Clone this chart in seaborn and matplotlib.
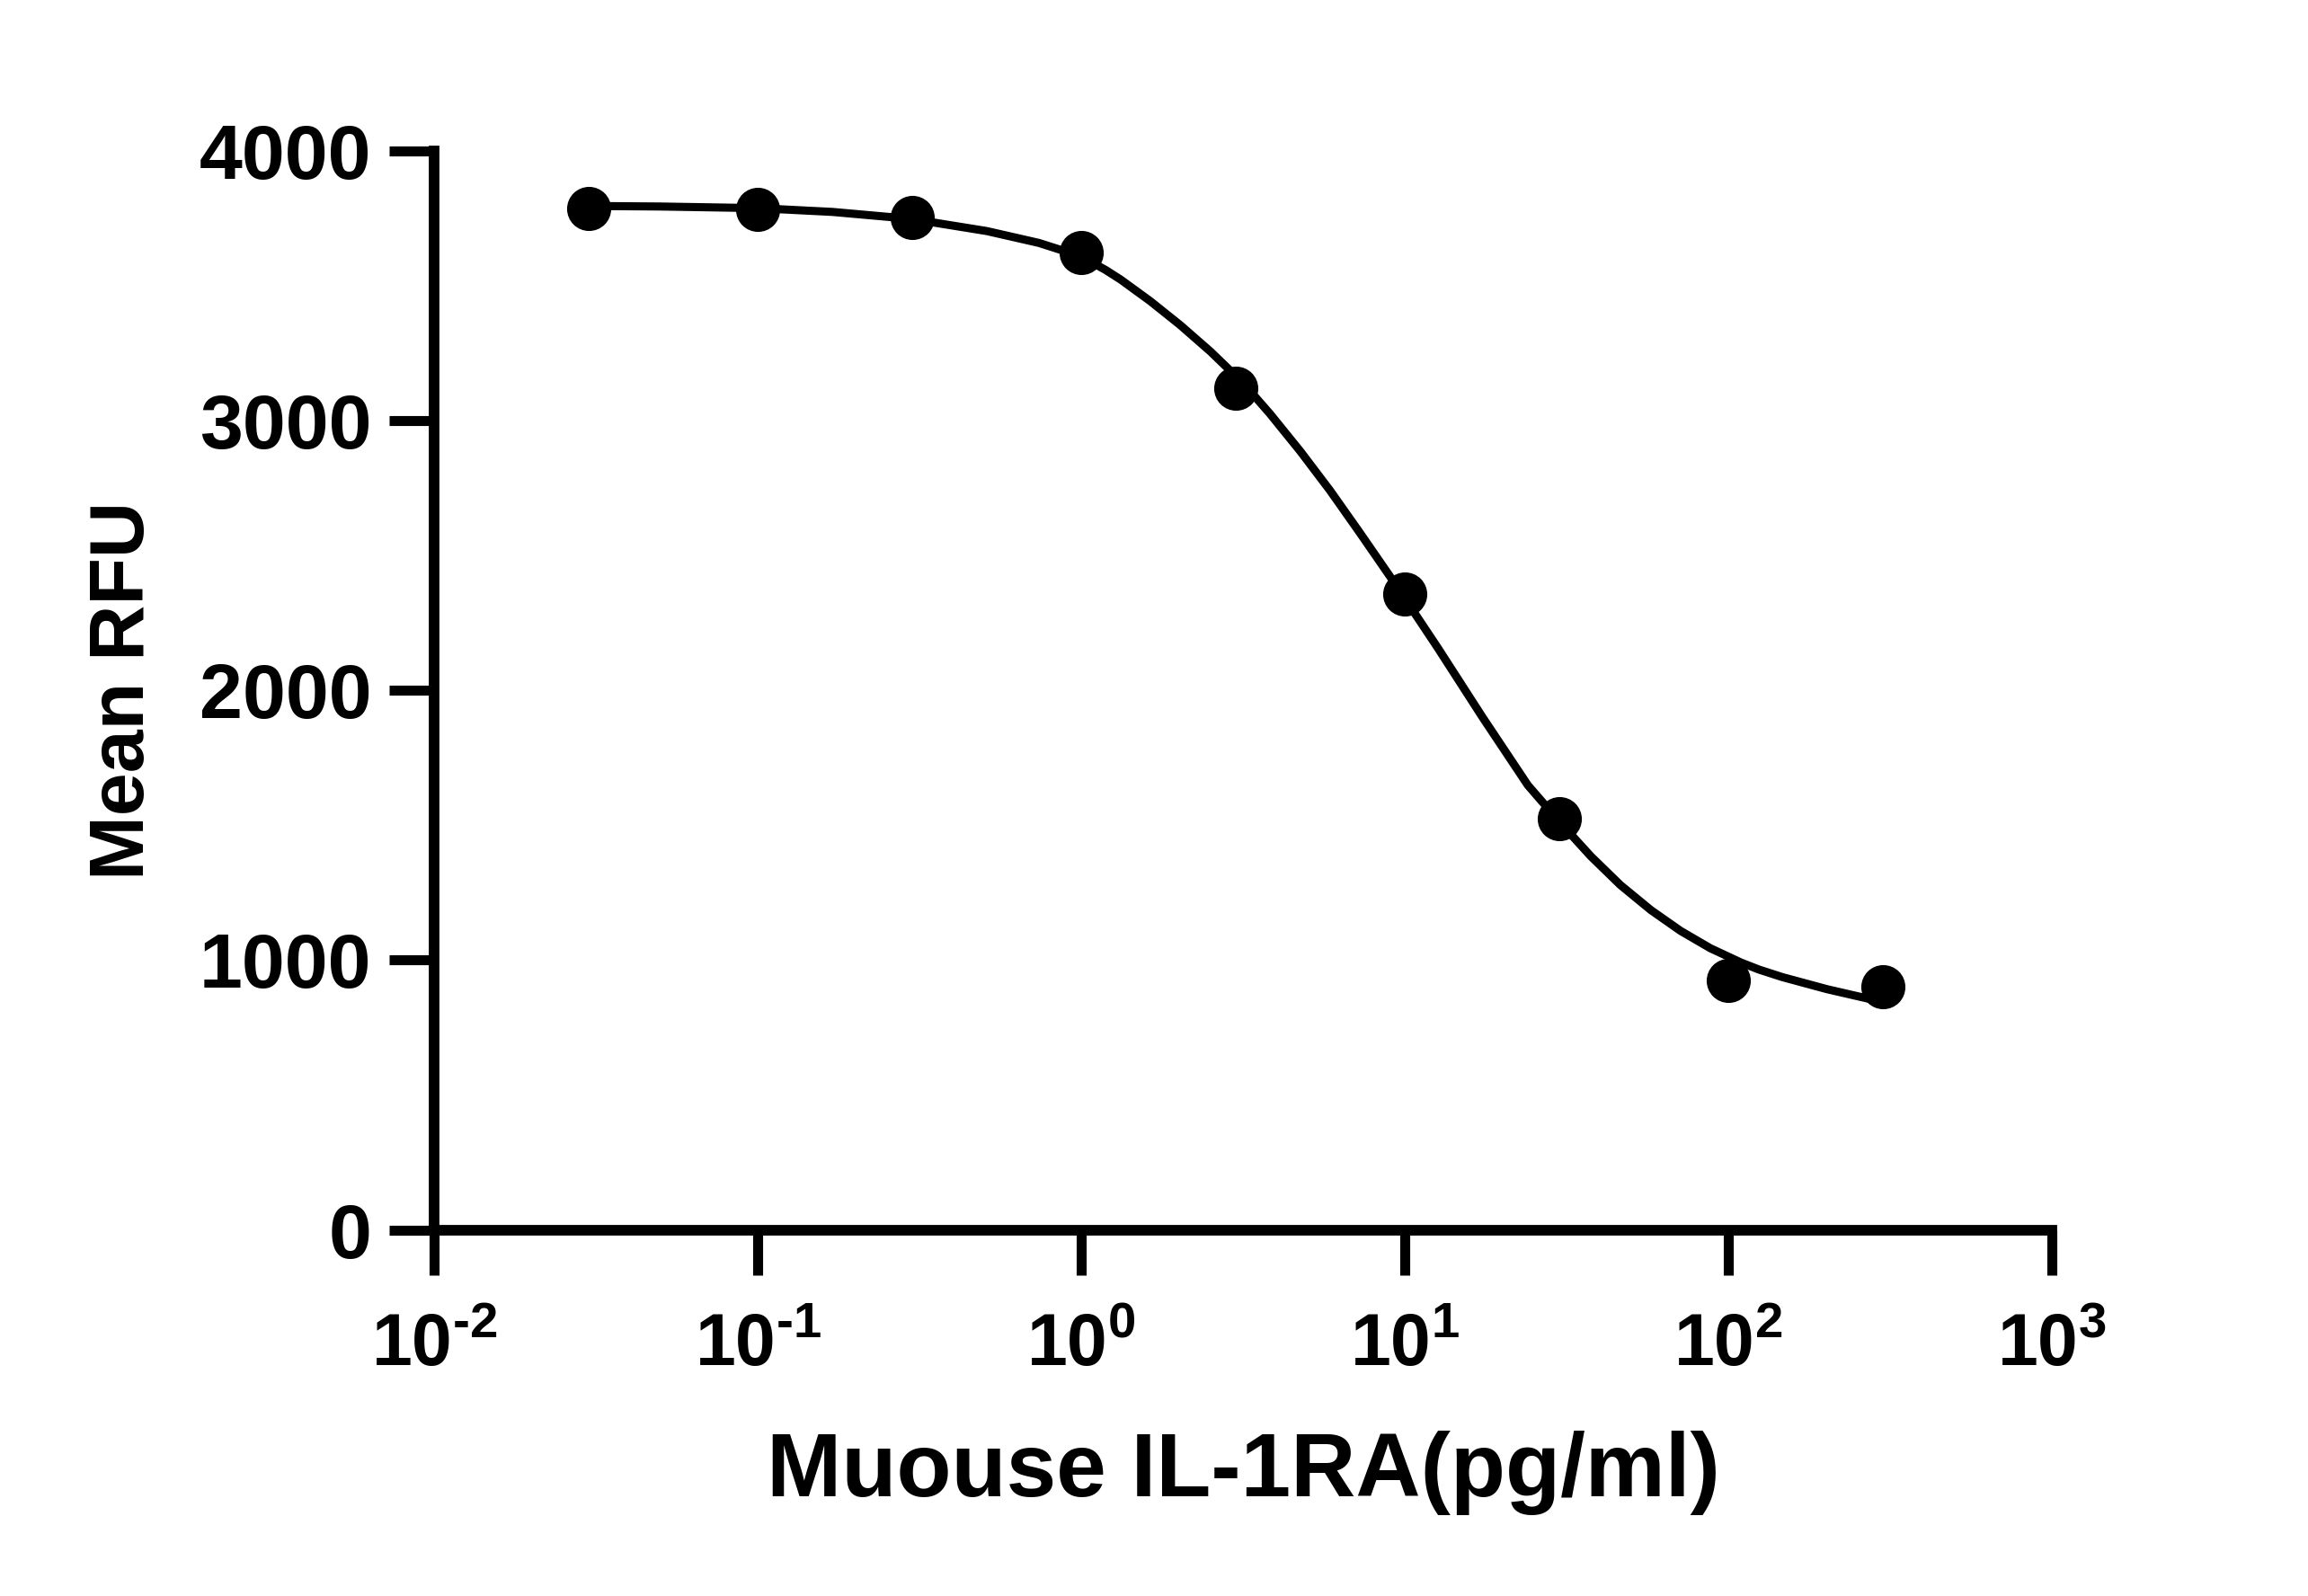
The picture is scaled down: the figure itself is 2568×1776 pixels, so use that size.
import numpy as np
import pandas as pd
import matplotlib
matplotlib.use("Agg")
import matplotlib.pyplot as plt
import seaborn as sns

# Measured points
conc = [0.03, 0.1, 0.3, 1, 3, 10, 30, 100, 300]
rfu = [3787, 3782, 3754, 3624, 3121, 2356, 1524, 925, 900]

# Fitted curve
curve_x = [0.02985, 0.0501, 0.1, 0.1701, 0.2985, 0.5109, 0.7403, 1.0, 1.189, 1.325,
           1.636, 2.021, 2.512, 2.910, 3.458, 3.831, 4.762, 5.880, 7.263, 9.028,
           10.0, 12.67, 17.44, 24.02, 30.63, 37.58, 46.42, 57.69, 71.26, 87.99,
           109.4, 124.3, 146.8, 202.1, 273.0, 300.0]
curve_y = [3795, 3793, 3787, 3773, 3747, 3702, 3658, 3608, 3558, 3522,
           3442, 3354, 3255, 3181, 3086, 3025, 2885, 2740, 2584, 2420,
           2341, 2156, 1898, 1648, 1502, 1385, 1278, 1185, 1108, 1044,
           991, 965, 937, 892, 856, 846]

y_ticks = [0, 1000, 2000, 3000, 4000]
x_ticks = [0.01, 0.1, 1, 10, 100, 1000]
x_tick_labels = ["$\\mathbf{10^{\u20102}}$", "$\\mathbf{10^{\u20101}}$", r"$\mathbf{10^{0}}$",
                 r"$\mathbf{10^{1}}$", r"$\mathbf{10^{2}}$", r"$\mathbf{10^{3}}$"]
x_label = "Muouse IL-1RA(pg/ml)"
y_label = "Mean RFU"

sns.set_theme(style="ticks")
plt.rcParams["font.family"] = ["Liberation Sans", "DejaVu Sans"]
plt.rcParams["font.weight"] = "bold"
plt.rcParams["text.color"] = "black"
plt.rcParams["axes.labelcolor"] = "black"
plt.rcParams["xtick.color"] = "black"
plt.rcParams["ytick.color"] = "black"
plt.rcParams["mathtext.fontset"] = "custom"
plt.rcParams["mathtext.rm"] = "Liberation Sans:bold"
plt.rcParams["mathtext.bf"] = "Liberation Sans:bold"
plt.rcParams["mathtext.it"] = "Liberation Sans:bold"

fig = plt.figure(figsize=(25.68, 17.76), dpi=100)
ax = fig.add_axes([0.1881, 0.2294, 0.8890 - 0.1881, 0.9056 - 0.2294])

pts = pd.DataFrame({"conc": conc, "rfu": rfu})
crv = pd.DataFrame({"x": curve_x, "y": curve_y})

sns.lineplot(data=crv, x="x", y="y", ax=ax, color="black", linewidth=6.5,
             sort=False, estimator=None, zorder=2)
ax.lines[-1].set_solid_joinstyle("round")
sns.scatterplot(data=pts, x="conc", y="rfu", ax=ax, color="black", s=1250,
                edgecolor="black", linewidth=0, zorder=3)

ax.set_xscale("log")
ax.set_xlim(0.01, 1000)
ax.set_ylim(0, 4000)
ax.set_xticks(x_ticks)
ax.set_xticklabels(x_tick_labels)
ax.minorticks_off()
ax.set_yticks(y_ticks)
ax.set_yticklabels([str(v) for v in y_ticks])

for s in ["top", "right"]:
    ax.spines[s].set_visible(False)
for s in ["left", "bottom"]:
    ax.spines[s].set_linewidth(8.5)
    ax.spines[s].set_color("black")
    ax.spines[s].set_capstyle("projecting")

ax.tick_params(axis="both", which="major", direction="out", length=36, width=8,
               color="black", labelcolor="black")
ax.tick_params(axis="y", labelsize=62, pad=14)
ax.tick_params(axis="x", labelsize=58, pad=30)
for lab in ax.get_yticklabels():
    lab.set_fontweight("bold")

ax.set_xlabel(x_label, fontsize=72, fontweight="bold", labelpad=40, color="black")
ax.set_ylabel(y_label, fontsize=62, fontweight="bold", labelpad=32, color="black")
ax.grid(False)

fig.savefig("out.png", dpi=100)
